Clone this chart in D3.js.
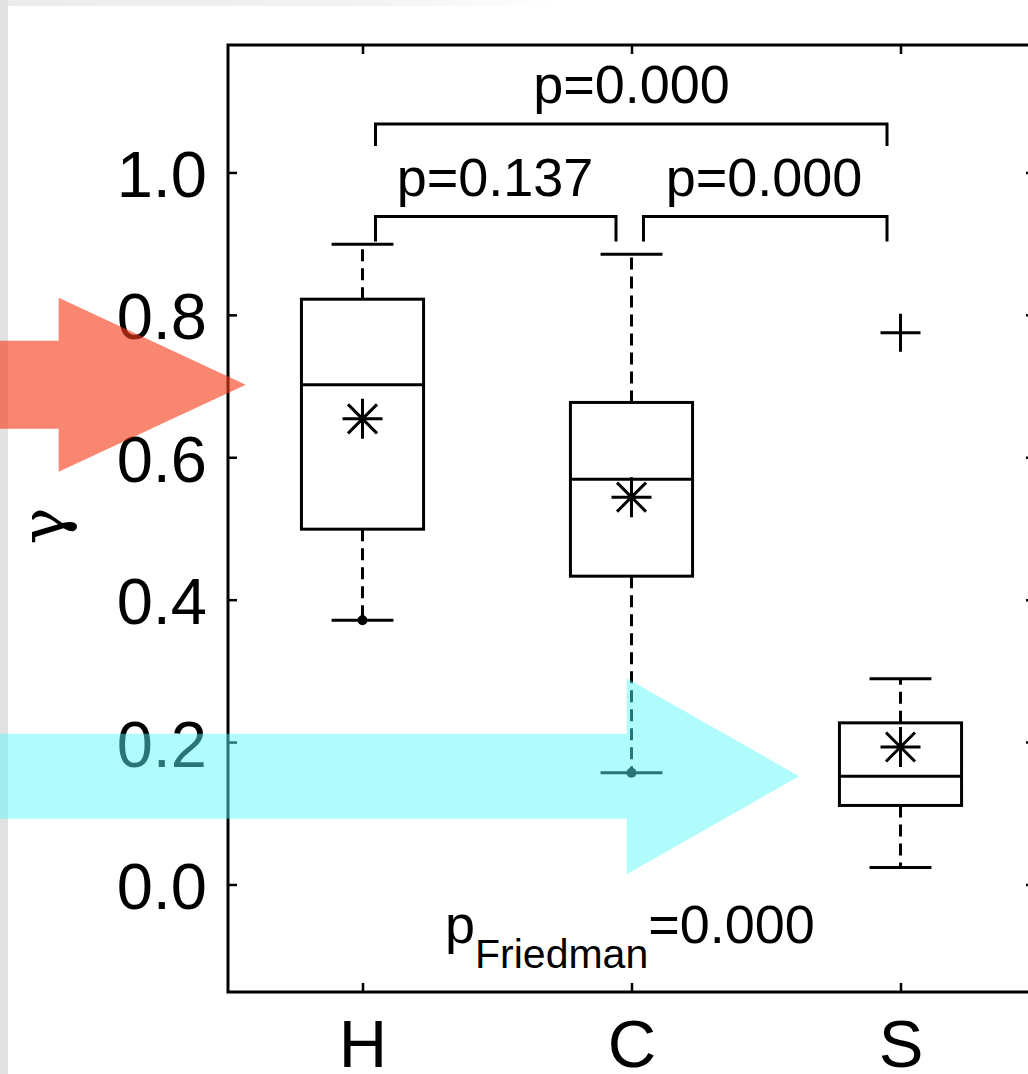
<!DOCTYPE html>
<html lang="en">
<head>
<meta charset="UTF-8">
<title>gamma boxplot</title>
<script src="https://cdn.jsdelivr.net/npm/d3@7/dist/d3.min.js"></script>
<style>
    body { margin: 0; background: #ffffff; }
    svg text { font-family: "Liberation Sans", Arial, sans-serif; fill: #000; }
</style>
</head>
<body>
<svg class="chart"></svg>
<script>
    // data
    const groups = ["H", "C", "S"];
    const whiskerLow = [0.371, 0.157, 0.024];
    const q1 = [0.499, 0.433, 0.111];
    const median = [0.702, 0.569, 0.152];
    const q3 = [0.822, 0.677, 0.227];
    const whiskerHigh = [0.899, 0.885, 0.289];
    const means = [0.654, 0.544, 0.193];
    const outlierGroup = [3];
    const outlierValue = [0.775];
    const dotGroup = [1, 2];           // small dots at lower whisker ends
    const dotValue = [0.371, 0.157];
    const yTicks = [0, 0.2, 0.4, 0.6, 0.8, 1.0];
    // pairwise tests
    const pairFrom = [1, 1, 2];
    const pairTo = [3, 2, 3];
    const pairLabel = ["p=0.000", "p=0.137", "p=0.000"];
    const pairLevel = [1.068, 0.938, 0.938];
    const pairFoot = [1.037, 0.903, 0.903];
    const friedmanP = "=0.000";

    const width = 1028, height = 1074;
    const svg = d3.select(".chart").attr("width", width).attr("height", height);

    // grey edges of the screenshot
    const grad = svg.append("defs").append("linearGradient").attr("id", "topfade");
    grad.append("stop").attr("offset", "0").attr("stop-color", "#ececec");
    grad.append("stop").attr("offset", "0.6").attr("stop-color", "#f1f1f1");
    grad.append("stop").attr("offset", "1").attr("stop-color", "#ffffff");
    svg.append("rect").attr("x", 0).attr("y", 0).attr("width", 560).attr("height", 6).attr("fill", "url(#topfade)");
    svg.append("rect").attr("x", 0).attr("y", 0).attr("width", 8).attr("height", height).attr("fill", "#e2e2e2");

    const x = d3.scaleLinear().domain([0.5, 3.5]).range([228, 1035]);
    const y = d3.scaleLinear().domain([-0.151, 1.179]).range([992, 45]);

    const boxHalf = 0.227, capHalf = 0.115;
    const lw = 3;

    const plot = svg.append("g");

    // axes
    const yAxis = d3.axisLeft(y).tickValues(yTicks).tickFormat(d3.format(".1f"))
        .tickSizeInner(-9).tickSizeOuter(0).tickPadding(21);
    const gy = plot.append("g").attr("transform", `translate(${x(0.5)},0)`).call(yAxis);
    gy.selectAll("text").attr("font-size", 65).attr("dy", "0.37em");

    const xAxis = d3.axisBottom(x).tickValues([1, 2, 3]).tickFormat(d => groups[d - 1])
        .tickSizeInner(-9).tickSizeOuter(0).tickPadding(27);
    const gx = plot.append("g").attr("transform", `translate(0,${y(-0.151)})`).call(xAxis);
    gx.selectAll("text").attr("font-size", 67);

    plot.append("g").attr("transform", `translate(0,${y(1.179)})`)
        .call(d3.axisTop(x).tickValues([1, 2, 3]).tickFormat("").tickSizeInner(-9).tickSizeOuter(0));
    plot.append("g").attr("transform", `translate(${x(3.5)},0)`)
        .call(d3.axisRight(y).tickValues(yTicks).tickFormat("").tickSizeInner(-9).tickSizeOuter(0));

    plot.selectAll(".domain").remove();
    plot.selectAll(".tick line").attr("stroke", "#000").attr("stroke-width", 2.5);

    plot.append("rect")
        .attr("x", x(0.5)).attr("y", y(1.179))
        .attr("width", x(3.5) - x(0.5)).attr("height", y(-0.151) - y(1.179))
        .attr("fill", "none").attr("stroke", "#000").attr("stroke-width", lw);

    // y label
    svg.append("text")
        .attr("transform", `translate(64,526) rotate(-90)`)
        .attr("text-anchor", "middle")
        .attr("font-size", 62)
        .style("font-family", "'DejaVu Serif', 'Liberation Serif', serif")
        .text("γ");

    const idx = d3.range(groups.length);
    const boxes = plot.append("g").attr("stroke", "#000").attr("stroke-width", lw).attr("fill", "none");

    // whiskers (dashed)
    boxes.selectAll(".wh").data(idx).join("line")
        .attr("x1", i => x(i + 1)).attr("x2", i => x(i + 1))
        .attr("y1", i => y(q3[i])).attr("y2", i => y(whiskerHigh[i]))
        .attr("stroke-dasharray", "12,7");
    boxes.selectAll(".wl").data(idx).join("line")
        .attr("x1", i => x(i + 1)).attr("x2", i => x(i + 1))
        .attr("y1", i => y(q1[i])).attr("y2", i => y(whiskerLow[i]))
        .attr("stroke-dasharray", "12,7");

    // caps
    [whiskerHigh, whiskerLow].forEach(arr => {
        boxes.append("g").selectAll("line").data(idx).join("line")
            .attr("x1", i => x(i + 1 - capHalf)).attr("x2", i => x(i + 1 + capHalf))
            .attr("y1", i => y(arr[i])).attr("y2", i => y(arr[i]));
    });

    // boxes
    boxes.append("g").selectAll("rect").data(idx).join("rect")
        .attr("x", i => x(i + 1 - boxHalf)).attr("width", i => x(i + 1 + boxHalf) - x(i + 1 - boxHalf))
        .attr("y", i => y(q3[i])).attr("height", i => y(q1[i]) - y(q3[i]))
        .attr("fill", "#fff");
    boxes.append("g").selectAll("line").data(idx).join("line")
        .attr("x1", i => x(i + 1 - boxHalf)).attr("x2", i => x(i + 1 + boxHalf))
        .attr("y1", i => y(median[i])).attr("y2", i => y(median[i]));

    // mean asterisks
    const r = 20, rd = 14.5;
    const starPath = `M${-r},0H${r}M0,${-r}V${r}M${-rd},${-rd}L${rd},${rd}M${-rd},${rd}L${rd},${-rd}`;
    boxes.append("g").selectAll("path").data(idx).join("path")
        .attr("transform", i => `translate(${x(i + 1)},${y(means[i])})`)
        .attr("d", starPath);

    // outliers
    boxes.append("g").selectAll("path").data(outlierValue).join("path")
        .attr("transform", (v, k) => `translate(${x(outlierGroup[k])},${y(v)})`)
        .attr("d", "M-20,0H20M0,-19V19");

    // dots at whisker ends
    plot.append("g").selectAll("circle").data(dotValue).join("circle")
        .attr("cx", (v, k) => x(dotGroup[k])).attr("cy", v => y(v))
        .attr("r", 5).attr("fill", "#000");

    // pairwise brackets
    const pairs = d3.range(pairFrom.length);
    const br = plot.append("g");
    br.selectAll("path").data(pairs).join("path")
        .attr("d", k => {
            const x0 = x(pairFrom[k]) + (pairFrom[k] === 1 ? 13 : 12);
            const x1 = x(pairTo[k]) - (pairTo[k] === 2 ? 15.5 : 13.5);
            return `M${x0},${y(pairFoot[k])}V${y(pairLevel[k])}H${x1}V${y(pairFoot[k])}`;
        })
        .attr("fill", "none").attr("stroke", "#000").attr("stroke-width", lw);
    br.selectAll("text").data(pairs).join("text")
        .attr("x", k => (x(pairFrom[k]) + x(pairTo[k])) / 2 - (pairTo[k] - pairFrom[k] === 1 ? 2 : 0))
        .attr("y", k => y(pairLevel[k]) - 21)
        .attr("text-anchor", "middle")
        .attr("font-size", 54)
        .text(k => pairLabel[k]);

    // Friedman p
    const ft = plot.append("text").attr("x", 445).attr("y", 943).attr("font-size", 54);
    ft.append("tspan").text("p");
    ft.append("tspan").attr("font-size", 41).attr("dy", 25).text("Friedman");
    ft.append("tspan").attr("dy", -25).text(friedmanP);

    // highlight arrows on top
    function arrow(tipX, tipY, baseX, headHalf, shaftHalf, fill, op) {
        const pts = [[-20, tipY - shaftHalf], [baseX, tipY - shaftHalf], [baseX, tipY - headHalf],
            [tipX, tipY], [baseX, tipY + headHalf], [baseX, tipY + shaftHalf], [-20, tipY + shaftHalf]];
        svg.append("path").attr("d", d3.line()(pts) + "Z").attr("fill", fill).attr("fill-opacity", op);
    }
    arrow(x(0.566), y(median[0]), 58.7, 87, 44, "rgb(245,60,25)", 0.62);
    arrow(x(2.623), y(median[2]), 626.7, 98, 42.5, "rgb(88,248,248)", 0.47);
</script>
</body>
</html>
